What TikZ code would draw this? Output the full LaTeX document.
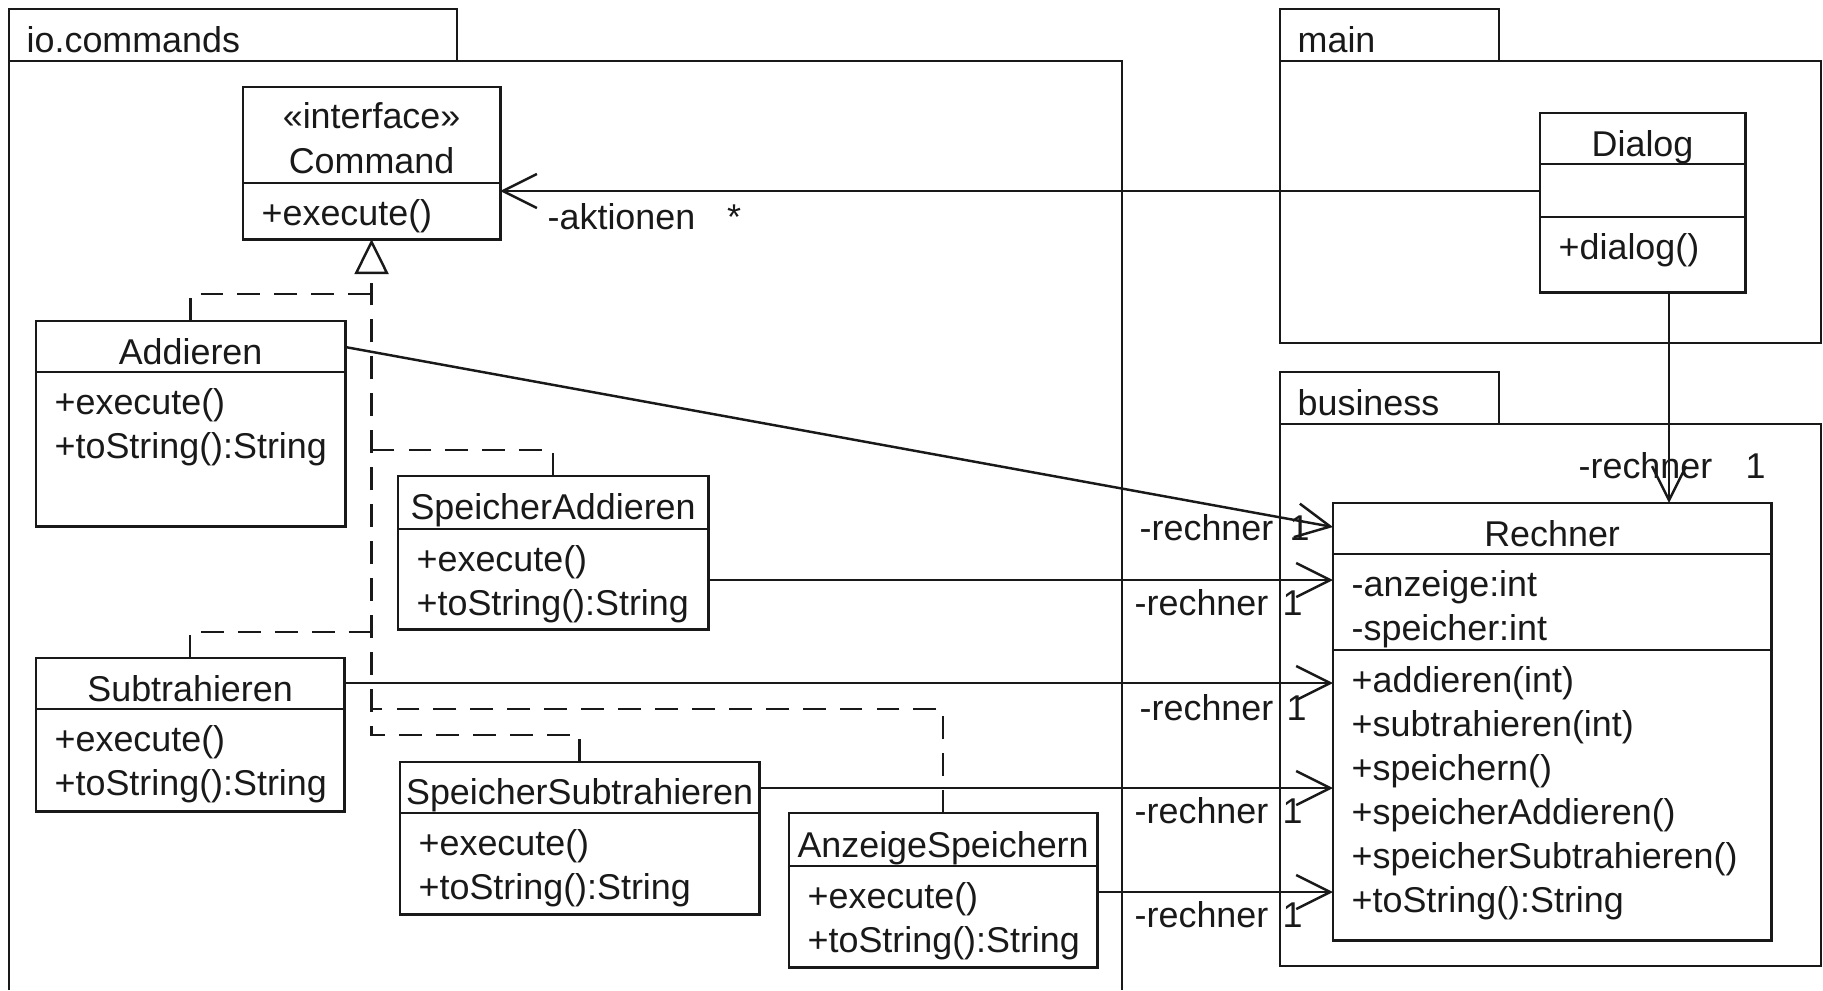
\documentclass[tikz,border=0pt]{standalone}
\usepackage{fontspec}
\setmainfont{Liberation Sans}
\usetikzlibrary{arrows.meta,positioning,calc}
\definecolor{Ink}{RGB}{25,25,25}
\tikzset{
  pkg/.style={draw=Ink, line width=0.8pt},
  pkglab/.style={anchor=base west, inner sep=0pt, text=Ink, font=\fontsize{10.2}{12.5}\selectfont},
  cls/.style={draw=Ink, line width=0.8pt, inner sep=0pt, outer sep=0pt, anchor=north west},
  clsline/.style={draw=Ink, line width=0.8pt},
  ctitle/.style={anchor=base, inner sep=0pt, text=Ink, font=\fontsize{10.2}{12.5}\selectfont},
  cmembers/.style={anchor=north west, align=left, inner sep=0pt, text=Ink, font=\fontsize{10.2}{12.5}\selectfont},
  role/.style={anchor=base east, inner sep=0pt, text=Ink, font=\fontsize{10.2}{12.5}\selectfont},
  mult/.style={anchor=base west, inner sep=0pt, text=Ink, font=\fontsize{10.2}{12.5}\selectfont},
  assoc/.style={draw=Ink, line width=0.7pt, -{Straight Barb[length=3.4mm, width=3.4mm]}},
  realize/.style={draw=Ink, line width=0.7pt, dash pattern=on 6.5pt off 4pt},
  realtip/.style={realize, -{Triangle[open, length=3.5mm, width=3.4mm]}},
}

\begin{document}
\begin{tikzpicture}[x=0.01cm, y=-0.01cm]
\useasboundingbox (0,0) rectangle (1823,990);

% ---------------- packages ----------------
\draw[pkg] (9,9) rectangle (457,61);
\draw[pkg] (9,990) |- (1122,61) -- (1122,990);
\node[pkglab] (iolab) at (26,52) {io.commands};

\draw[pkg] (1280,9) rectangle (1499,61);
\draw[pkg] (1280,61) rectangle (1821,343);
\node[pkglab] (mainlab) at (1297,52) {main};

\draw[pkg] (1280,372) rectangle (1499,424);
\draw[pkg] (1280,424) rectangle (1821,966);
\node[pkglab] (buslab) at (1297,415) {business};

% ---------------- interface Command ----------------
\node[cls, minimum width=2.57cm, minimum height=1.52cm] (cmd) at (243,87) {};
\draw[clsline] ($(cmd.north west)+(0,96)$) -- ($(cmd.north east)+(0,96)$);
\node[ctitle] (cmdst) at ($(cmd.north)+(0,41)$) {«interface»};
\node[ctitle] (cmdname) at ($(cmd.north)+(0,86)$) {Command};
\node[cmembers] (cmdops) at ($(cmd.north west)+(18,112)$) {+execute()};

% ---------------- command classes ----------------
\node[cls, minimum width=3.09cm, minimum height=2.05cm] (addieren) at (36,321) {};
\draw[clsline] ($(addieren.north west)+(0,51)$) -- ($(addieren.north east)+(0,51)$);
\node[ctitle] (addname) at ($(addieren.north)+(0,43)$) {Addieren};
\node[cmembers] (addops) at ($(addieren.north west)+(18,67)$) {+execute()\\+toString():String};

\node[cls, minimum width=3.10cm, minimum height=1.53cm] (spadd) at (398,476) {};
\draw[clsline] ($(spadd.north west)+(0,53)$) -- ($(spadd.north east)+(0,53)$);
\node[ctitle] (spaddname) at ($(spadd.north)+(0,43)$) {SpeicherAddieren};
\node[cmembers] (spaddops) at ($(spadd.north west)+(18,69)$) {+execute()\\+toString():String};

\node[cls, minimum width=3.08cm, minimum height=1.53cm] (subtr) at (36,658) {};
\draw[clsline] ($(subtr.north west)+(0,51)$) -- ($(subtr.north east)+(0,51)$);
\node[ctitle] (subname) at ($(subtr.north)+(0,43)$) {Subtrahieren};
\node[cmembers] (subops) at ($(subtr.north west)+(18,67)$) {+execute()\\+toString():String};

\node[cls, minimum width=3.59cm, minimum height=1.52cm] (spsub) at (400,762) {};
\draw[clsline] ($(spsub.north west)+(0,51)$) -- ($(spsub.north east)+(0,51)$);
\node[ctitle] (spsubname) at ($(spsub.north)+(0,42)$) {SpeicherSubtrahieren};
\node[cmembers] (spsubops) at ($(spsub.north west)+(18,67)$) {+execute()\\+toString():String};

\node[cls, minimum width=3.08cm, minimum height=1.54cm] (anz) at (789,813) {};
\draw[clsline] ($(anz.north west)+(0,53)$) -- ($(anz.north east)+(0,53)$);
\node[ctitle] (anzname) at ($(anz.north)+(0,44)$) {AnzeigeSpeichern};
\node[cmembers] (anzops) at ($(anz.north west)+(18,69)$) {+execute()\\+toString():String};

% ---------------- main / business classes ----------------
\node[cls, minimum width=2.05cm, minimum height=1.79cm] (dialog) at (1540,113) {};
\draw[clsline] ($(dialog.north west)+(0,51)$) -- ($(dialog.north east)+(0,51)$);
\draw[clsline] ($(dialog.north west)+(0,104)$) -- ($(dialog.north east)+(0,104)$);
\node[ctitle] (dlgname) at ($(dialog.north)+(0,43)$) {Dialog};
\node[cmembers] (dlgops) at ($(dialog.north west)+(18,120)$) {+dialog()};

\node[cls, minimum width=4.38cm, minimum height=4.37cm] (rechner) at (1333,503) {};
\draw[clsline] ($(rechner.north west)+(0,51)$) -- ($(rechner.north east)+(0,51)$);
\draw[clsline] ($(rechner.north west)+(0,147)$) -- ($(rechner.north east)+(0,147)$);
\node[ctitle] (rechname) at ($(rechner.north)+(0,43)$) {Rechner};
\node[cmembers] (rechattr) at ($(rechner.north west)+(18,67)$) {-anzeige:int\\-speicher:int};
\node[cmembers] (rechops) at ($(rechner.north west)+(18,163)$)
  {+addieren(int)\\+subtrahieren(int)\\+speichern()\\+speicherAddieren()\\+speicherSubtrahieren()\\+toString():String};

% ---------------- realizations of Command ----------------
\coordinate (jadd) at (cmd.south |- 0,294);
\coordinate (jspadd) at (cmd.south |- 0,450);
\coordinate (jsub) at (cmd.south |- 0,632);
\coordinate (janz) at (cmd.south |- 0,709);
\coordinate (jend) at (cmd.south |- 0,735);
\draw[realtip] (spsub.north) |- (jend) -- (cmd.south);
\draw[realize] (addieren.north) |- (jadd);
\draw[realize] (spadd.north) |- (jspadd);
\draw[realize] (subtr.north) |- (jsub);
\draw[realize] (anz.north) |- (janz);

% ---------------- associations ----------------
\draw[assoc] (dialog.west |- 0,191) -- (cmd.east |- 0,191);
\node[mult] (aktrole) at (547,229) {-aktionen};
\node[ctitle] (aktmult) at (734,229) {*};

\draw[assoc] (dialog.south -| 1669,0) -- (rechner.north -| 1669,0);
\node[mult] (dlgrole) at (1578,478) {-rechner};
\node[mult] (dlgmult) at (1745,478) {1};

\draw[assoc] (addieren.east |- 0,347) -- (rechner.west |- 0,527);
\node[role] (addrole) at (1274,540) {-rechner};
\node[mult] (addmult) at (1289,540) {1};

\draw[assoc] (spadd.east |- 0,580) -- (rechner.west |- 0,580);
\node[role] (spaddrole) at (1269,615) {-rechner};
\node[mult] (spaddmult) at (1282,615) {1};

\draw[assoc] (subtr.east |- 0,683) -- (rechner.west |- 0,683);
\node[role] (subrole) at (1274,720) {-rechner};
\node[mult] (submult) at (1286,720) {1};

\draw[assoc] (spsub.east |- 0,788) -- (rechner.west |- 0,788);
\node[role] (spsubrole) at (1269,823) {-rechner};
\node[mult] (spsubmult) at (1282,823) {1};

\draw[assoc] (anz.east |- 0,892) -- (rechner.west |- 0,892);
\node[role] (anzrole) at (1269,927) {-rechner};
\node[mult] (anzmult) at (1282,927) {1};

\end{tikzpicture}
\end{document}
